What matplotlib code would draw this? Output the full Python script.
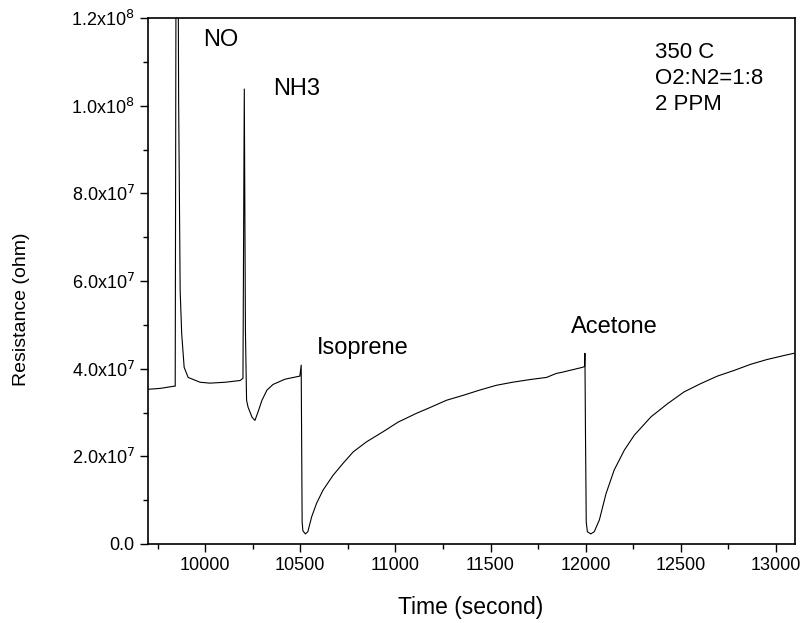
import numpy as np
import matplotlib
matplotlib.use('Agg')
import matplotlib.pyplot as plt
from matplotlib.ticker import MultipleLocator, FuncFormatter

plt.rcParams['font.family'] = ['Liberation Sans', 'DejaVu Sans']

# time (s) and resistance (1e7 ohm)
time = [9701, 9764, 9837, 9843, 9848, 9856, 9861, 9869, 9877, 9890, 9911, 9974,
        10026, 10105, 10184, 10199, 10206, 10212, 10218, 10226, 10247, 10262,
        10278, 10299, 10325, 10357, 10420, 10498, 10505, 10510, 10514, 10527,
        10540, 10560, 10586, 10620, 10673, 10725, 10778, 10848, 10935, 11014,
        11110, 11175, 11269, 11355, 11442, 11530, 11615, 11705, 11794, 11845,
        11878, 11983, 11994, 11996, 11999, 12003, 12009, 12027, 12045, 12072,
        12107, 12150, 12203, 12255, 12343, 12430, 12517, 12605, 12692, 12780,
        12867, 12954, 13042, 13094]
resist = [3.53, 3.55, 3.60, 3.60, 15.0, 16.0, 10.11, 5.78, 4.80, 4.03, 3.80, 3.69,
          3.67, 3.69, 3.73, 3.78, 10.38, 4.87, 3.28, 3.12, 2.89, 2.82,
          3.01, 3.28, 3.51, 3.64, 3.76, 3.83, 4.08, 0.50, 0.30, 0.23,
          0.28, 0.62, 0.93, 1.23, 1.57, 1.84, 2.10, 2.33, 2.56, 2.78,
          2.98, 3.10, 3.28, 3.39, 3.51, 3.62, 3.69, 3.75, 3.80, 3.89,
          3.92, 4.03, 4.05, 4.35, 2.50, 0.50, 0.28, 0.23, 0.28, 0.55,
          1.15, 1.69, 2.14, 2.48, 2.90, 3.20, 3.47, 3.66, 3.83, 3.96,
          4.10, 4.21, 4.30, 4.35]
resist = np.array(resist) * 1e7

gas_labels = ['NO', 'NH3', 'Isoprene', 'Acetone']
gas_pos = [(9990, 1.136e8), (10357, 1.025e8), (10587, 4.33e7), (11922, 4.81e7)]
cond_lines = ['350 C', 'O2:N2=1:8', '2 PPM']

fig = plt.figure(figsize=(8.04, 6.23), dpi=100)
ax = fig.add_axes([148/804, 1-544/623, 647/804, 526/623])

ax.plot(time, resist, color='black', lw=0.8)

ax.set_xlim(9700, 13100)
ax.set_ylim(0, 1.2e8)
ax.xaxis.set_major_locator(MultipleLocator(500))
ax.xaxis.set_minor_locator(MultipleLocator(250))
ax.yaxis.set_major_locator(MultipleLocator(2e7))
ax.yaxis.set_minor_locator(MultipleLocator(1e7))

def yfmt(v, pos):
    if v <= 0:
        return '0.0'
    e = int(np.floor(np.log10(v)))
    return r'%.1fx10$^{%d}$' % (v / 10**e, e)

ax.yaxis.set_major_formatter(FuncFormatter(yfmt))
ax.tick_params(which='major', direction='out', length=6, width=1, labelsize=13)
ax.tick_params(which='minor', direction='out', length=3.6, width=1)
for s in ax.spines.values():
    s.set_linewidth(1.2)

ax.set_xlabel('Time (second)', fontsize=16.5)
ax.set_ylabel('Resistance (ohm)', fontsize=14)
ax.xaxis.set_label_coords(0.498, -0.099)
ax.yaxis.set_label_coords(-0.182, 0.447)

for lab, (x, y) in zip(gas_labels, gas_pos):
    ax.text(x, y, lab, fontsize=17, va='baseline', ha='left')

for i, t in enumerate(cond_lines):
    ax.text(0.784, 0.924 - i*0.0495, t, transform=ax.transAxes,
            fontsize=16, va='baseline', ha='left')

fig.savefig('out.png', dpi=100)
